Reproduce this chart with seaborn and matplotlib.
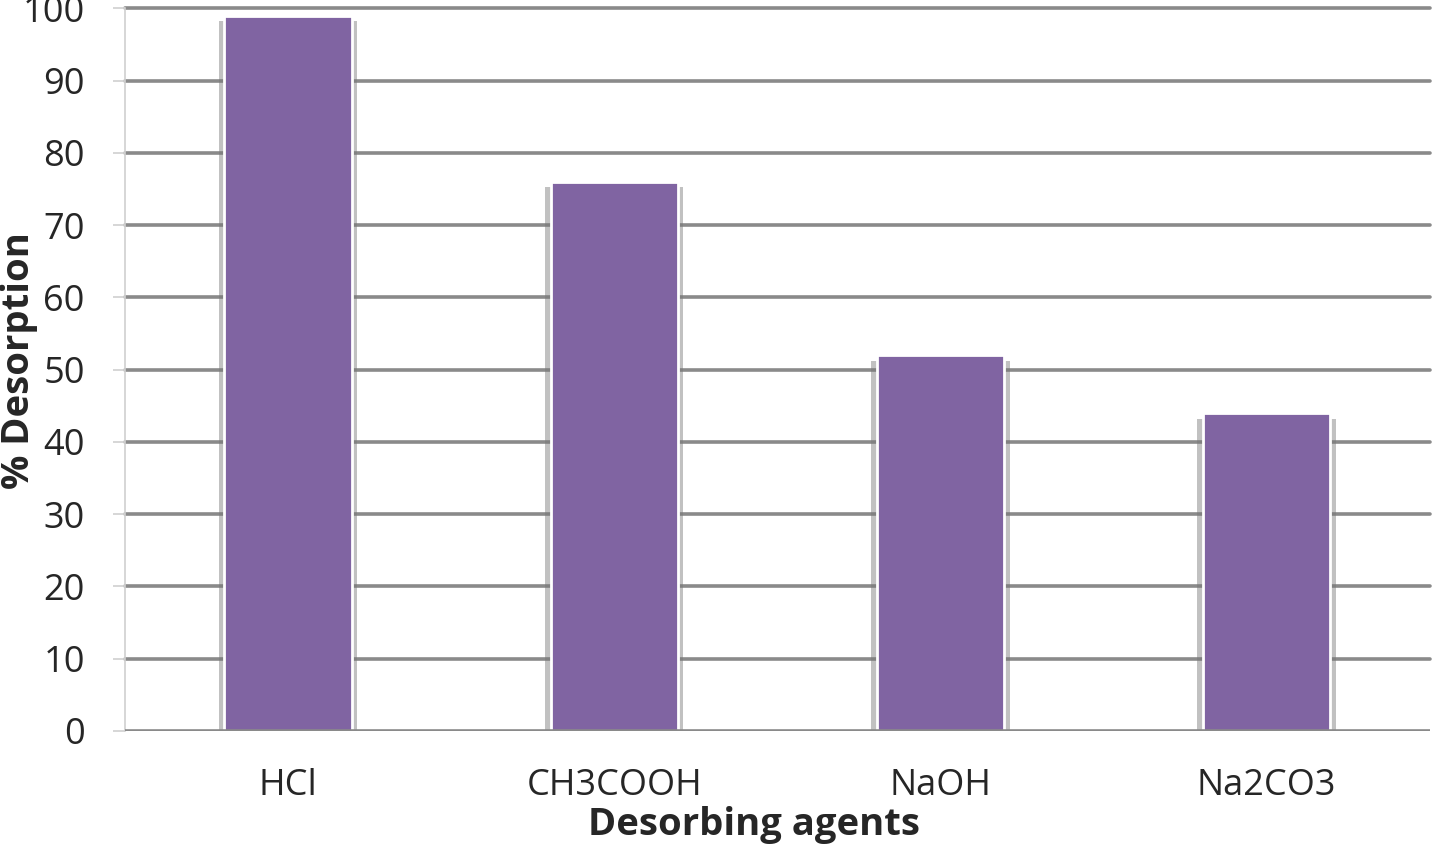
import matplotlib
matplotlib.use("Agg")
import matplotlib.pyplot as plt
import matplotlib.patheffects as pe
import seaborn as sns
import pandas as pd

agents = ["HCl", "CH3COOH", "NaOH", "Na2CO3"]
desorption = [99, 76, 52, 44]
y_ticks = list(range(0, 101, 10))

df = pd.DataFrame({"agent": agents, "desorption": desorption})

sns.set_style("white")
plt.rcParams["font.family"] = ["Open Sans", "DejaVu Sans"]

fig = plt.figure(figsize=(14.32, 8.46), dpi=100)
ax = fig.add_axes([0.0873, 0.136, 0.911, 0.854])

# gridlines behind bars
for v in y_ticks[1:]:
    ax.axhline(v, color="#8a8a8a", lw=2.6, zorder=0, clip_on=False)
ax.axhline(0, color="#8a8a8a", lw=2.6, zorder=3)

sns.barplot(data=df, x="agent", y="desorption", color="#8064A2", saturation=1,
            width=0.39, edgecolor="white", linewidth=2, ax=ax, zorder=2)

shadow = [
    pe.SimplePatchShadow(offset=(4, -4), shadow_rgbFace="#777777", alpha=0.45),
    pe.SimplePatchShadow(offset=(-4, -4), shadow_rgbFace="#777777", alpha=0.45),
    pe.Normal(),
]
for p in ax.patches:
    p.set_path_effects(shadow)

ax.set_ylim(0, 100)
ax.set_xlim(-0.5, len(agents) - 0.5)
ax.set_yticks(y_ticks)
ax.set_yticklabels([str(v) for v in y_ticks], fontsize=26)
ax.set_xticks(range(len(agents)))
ax.set_xticklabels(agents, fontsize=26)
ax.set_xticks([i - 0.5 for i in range(len(agents) + 1)], minor=True)
ax.tick_params(axis="x", which="major", length=0, pad=27)
ax.tick_params(axis="x", which="minor", length=14, color="#d0d0d0", width=1.2, direction="out")
ax.tick_params(axis="y", length=9, color="#d0d0d0", width=1.2, direction="out", pad=20, left=True)

for s in ["top", "right"]:
    ax.spines[s].set_visible(False)
ax.spines["bottom"].set_visible(False)
ax.spines["left"].set_color("#d0d0d0")
ax.spines["left"].set_linewidth(1.2)

ax.set_xlabel("Desorbing agents", fontsize=27.5, fontweight="bold")
ax.xaxis.set_label_coords(0.482, -0.104)
ax.set_ylabel("% Desorption", fontsize=27.5, fontweight="bold")
ax.yaxis.set_label_coords(-0.067, 0.512)

fig.savefig("out.png", dpi=100)
